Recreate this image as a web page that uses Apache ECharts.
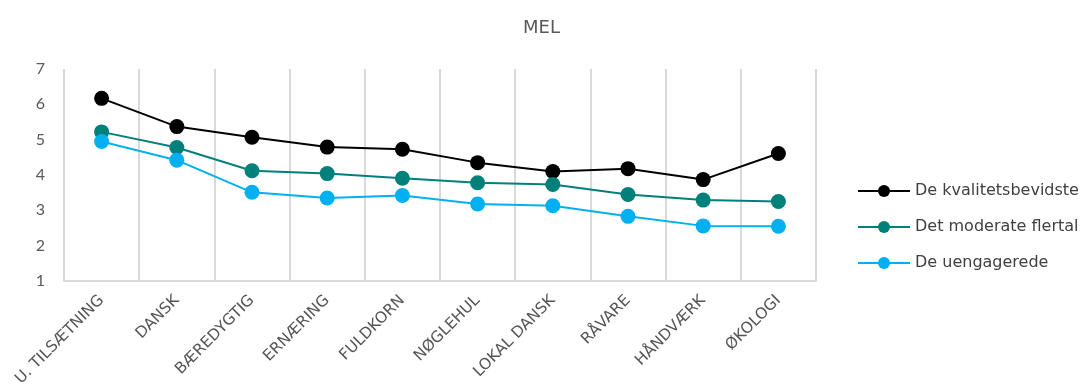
<!DOCTYPE html>
<html>
<head>
<meta charset="utf-8">
<script src="https://cdn.jsdelivr.net/npm/echarts@6/dist/echarts.min.js"></script>
<style>
  html, body { margin: 0; padding: 0; background: #fff; }
  #chart { width: 1083px; height: 392px; }
</style>
</head>
<body>
<div id="chart"></div>
<script>
// Categories along the x axis
const categories = ['U. TILSÆTNING', 'DANSK', 'BÆREDYGTIG', 'ERNÆRING', 'FULDKORN',
  'NØGLEHUL', 'LOKAL DANSK', 'RÅVARE', 'HÅNDVÆRK', 'ØKOLOGI'];

// Segment scores
const kvalitetsbevidste = [6.17, 5.37, 5.07, 4.79, 4.73, 4.35, 4.10, 4.18, 3.87, 4.61];
const moderateFlertal   = [5.22, 4.78, 4.12, 4.04, 3.91, 3.78, 3.73, 3.45, 3.29, 3.25];
const uengagerede       = [4.95, 4.42, 3.51, 3.35, 3.42, 3.18, 3.13, 2.83, 2.56, 2.55];

const seriesNames = ['De kvalitetsbevidste', 'Det moderate flertal', 'De uengagerede'];
const seriesColors = ['#000000', '#00807A', '#00B0F0'];
const yTicks = [1, 2, 3, 4, 5, 6, 7];

const wideFont = '"DejaVu Sans", sans-serif';
const numFont = 'Lato, "Open Sans", sans-serif';
const chart = echarts.init(document.getElementById('chart'));

const makeSeries = (name, data, color) => ({
  name, type: 'line', data,
  symbol: 'circle', symbolSize: 15,
  lineStyle: { color, width: 2 },
  itemStyle: { color },
  emphasis: { disabled: true }
});

chart.setOption({
  animation: false,
  title: {
    text: 'MEL', left: 'center', top: 14,
    textStyle: { fontFamily: wideFont, fontSize: 18, fontWeight: 'normal', color: '#595959' }
  },
  legend: {
    orient: 'vertical', left: 852, top: 178,
    itemWidth: 52, itemHeight: 15, itemGap: 20,
    textStyle: { fontFamily: wideFont, fontSize: 16, color: '#404040' },
    data: seriesNames
  },
  grid: { left: 64, right: 267, top: 69, bottom: 111 },
  xAxis: {
    type: 'category', data: categories, boundaryGap: true,
    axisLine: { show: true, lineStyle: { color: '#D9D9D9', width: 2 } },
    axisTick: { show: false },
    splitLine: { show: true, lineStyle: { color: '#D9D9D9', width: 2 } },
    axisLabel: {
      rotate: 45, interval: 0, margin: 17,
      fontFamily: wideFont, fontSize: 15.5, color: '#555555'
    }
  },
  yAxis: {
    type: 'value', min: yTicks[0], max: yTicks[yTicks.length - 1], interval: 1,
    axisLine: { show: false }, axisTick: { show: false },
    splitLine: { show: false },
    axisLabel: { margin: 19, fontFamily: numFont, fontSize: 16, color: '#595959' }
  },
  series: [
    makeSeries(seriesNames[0], kvalitetsbevidste, seriesColors[0]),
    makeSeries(seriesNames[1], moderateFlertal, seriesColors[1]),
    makeSeries(seriesNames[2], uengagerede, seriesColors[2])
  ]
});
</script>
</body>
</html>
